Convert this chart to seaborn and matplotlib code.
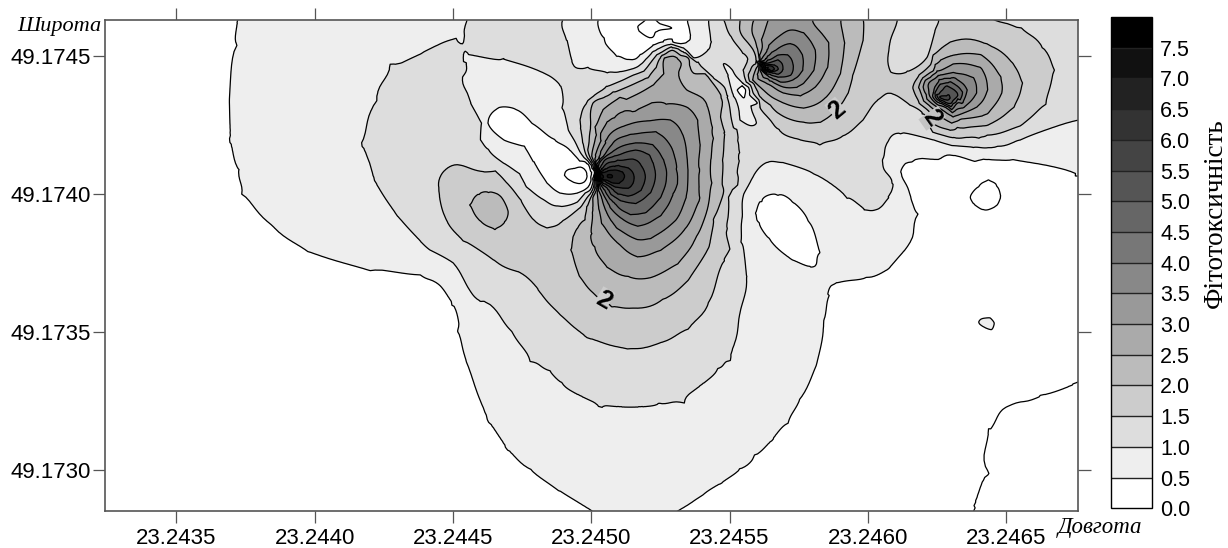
import numpy as np
import pandas as pd
import seaborn as sns
import matplotlib.pyplot as plt
import matplotlib.tri as mtri

# contours: longitude is 1e-4 deg past 23.24, latitude 1e-4 deg past 49.17
iso_00 = [
    ([63.63, 64.07, 64.43, 64.79, 65.26, 66.24, 67.6], [28.51, 29.99, 31.44, 32.28, 32.57, 32.64, 33.07]),
    ([49.0, 49.36, 49.86, 49.72, 49.36], [40.68, 40.94, 40.68, 40.4, 40.4]),
    ([51.6, 51.96, 52.5, 53.05, 53.12, 52.25, 51.67], [46.05, 46.31, 46.2, 46.0, 45.65, 45.62, 45.94]),
    ([63.63, 63.96, 64.36, 64.72, 64.86, 64.68, 64.17, 63.78], [39.89, 40.32, 40.5, 40.32, 39.89, 39.49, 39.34, 39.6]),
]
iso_05 = [
    ([37.24, 37.1, 36.99, 37.03, 37.24, 37.49, 38.4, 39.85, 42.01, 43.82, 44.54, 45.01, 45.27, 45.52, 46.35, 47.0, 47.8, 48.88, 49.97, 50.33,
      52.86, 53.94, 54.67, 55.38, 55.95, 56.47, 57.05, 57.55, 58.1, 58.46, 58.53, 58.64, 58.89, 59.97, 60.7, 61.28, 61.64, 61.53, 61.17, 61.43, 62.98, 65.26, 67.6],
     [46.31, 45.4, 43.41, 41.96, 40.87, 40.14, 38.87, 37.96, 37.31, 36.99, 36.78, 36.04, 35.07, 33.98, 31.8, 30.82, 29.99, 29.27, 28.6, 28.51,
      28.51, 29.09, 29.55, 30.0, 30.5, 31.08, 31.8, 32.53, 33.79, 35.41, 36.33, 36.69, 36.8, 36.95, 37.31, 37.96, 39.31, 39.89, 40.75, 41.23, 41.45, 41.23, 40.79]),
    ([46.24, 46.64, 47.33, 47.91, 48.63, 49.25, 49.86, 50.04, 49.97, 49.5, 48.88, 48.41, 47.91, 47.55, 46.82],
     [42.57, 43.19, 43.12, 42.57, 41.95, 41.59, 41.12, 40.76, 40.4, 40.04, 40.04, 40.4, 41.12, 41.7, 41.95]),
    ([50.14, 50.4, 50.94, 51.52, 51.78, 52.25, 52.97, 53.51, 53.58, 53.44],
     [46.31, 45.58, 45.04, 44.82, 45.04, 45.4, 45.51, 45.51, 45.76, 46.31]),
    ([55.97, 56.11, 56.73, 57.3, 57.92, 58.21, 58.17, 57.85, 57.2, 56.37, 56.0],
     [39.31, 39.78, 40.04, 39.78, 39.04, 37.86, 37.35, 37.28, 37.6, 38.33, 38.96]),
    ([63.96, 64.07, 64.43, 64.61, 64.5, 64.17], [35.32, 35.5, 35.54, 35.32, 35.03, 35.14]),
    ([55.27, 55.45, 55.6, 55.56, 55.38], [43.77, 43.91, 43.77, 43.48, 43.59]),
]
iso_10 = [
    ([45.56, 45.34, 45.01, 43.82, 42.85, 42.12, 41.83, 42.12, 42.99, 43.82, 45.01, 46.24, 47.07, 47.91, 48.4, 48.88, 49.6, 50.33, 51.0, 51.78, 52.5, 53.22, 54.0, 54.67,
      54.92, 55.38, 55.64, 55.45, 55.85, 56.37, 56.94, 58.03, 59.26, 59.84, 60.16, 60.56, 60.81, 60.92, 60.56, 60.7, 61.17, 62.36, 63.81, 65.51, 67.6],
     [46.31, 45.94, 45.51, 45.11, 44.6, 43.41, 41.85, 40.5, 39.16, 38.26, 37.5, 36.15, 34.96, 33.98, 33.55, 33.07, 32.65, 32.35, 32.25, 32.24, 32.33, 32.53, 33.05, 33.62,
      33.98, 35.68, 36.99, 39.16, 40.61, 41.16, 41.12, 40.76, 39.89, 39.42, 39.34, 39.49, 39.89, 40.4, 41.23, 41.95, 42.24, 41.95, 41.7, 41.95, 42.68]),
    ([48.88, 49.14, 49.32, 49.86, 50.58, 51.05, 51.78, 52.25, 52.86, 53.33, 53.69, 54.23, 54.31, 54.2],
     [46.31, 45.58, 44.85, 44.56, 44.46, 44.42, 44.67, 45.15, 45.44, 45.29, 44.96, 45.22, 45.51, 46.31]),
    ([45.34, 45.63, 46.82, 48.41, 48.88, 48.99, 49.17, 49.71, 50.14, 49.97, 49.5, 48.88, 48.27, 47.69, 46.82, 46.24, 45.99, 45.99, 45.63, 45.34],
     [44.75, 45.15, 44.85, 44.31, 43.88, 43.15, 42.32, 41.34, 40.76, 40.15, 39.71, 39.53, 39.78, 40.25, 41.12, 41.59, 41.95, 42.57, 43.3, 44.24]),
    ([54.92, 55.13, 55.49, 56.0, 56.04, 55.75, 55.38, 55.1], [44.31, 44.56, 44.02, 43.3, 42.57, 42.43, 42.68, 43.66]),
]
iso_15 = [
    ([50.07, 49.71, 49.6, 49.86, 50.58, 51.52, 52.14, 52.5, 52.93, 53.33, 53.84, 54.41, 54.95, 55.13, 55.31, 55.31, 55.13, 54.85, 54.78, 54.41, 53.47, 52.25,
      51.31, 49.86, 48.88, 48.05, 47.33, 46.46, 45.38, 44.65, 44.44, 44.62, 45.27, 46.1, 46.97, 47.44, 47.91, 48.41, 48.99, 49.6, 49.97, 50.11],
     [40.98, 41.85, 42.68, 43.4, 43.88, 44.31, 44.75, 45.11, 45.33, 45.11, 44.75, 44.24, 43.51, 42.43, 41.48, 41.23, 40.14, 38.69, 37.6, 36.26, 35.17, 34.45,
      34.38, 34.81, 35.61, 36.52, 37.17, 37.6, 38.33, 39.16, 40.03, 40.76, 41.05, 40.79, 40.4, 39.78, 39.05, 38.8, 38.98, 39.49, 40.03, 40.5]),
    ([54.84, 55.03, 55.49, 55.67, 55.53, 55.85, 56.11, 56.73, 57.45, 58.28, 59.11, 59.84, 60.34, 60.7, 60.92, 61.53, 62.0, 62.15, 62.36, 63.09, 64.32, 65.51, 66.35, 66.67, 66.35, 65.51, 64.32],
     [46.31, 45.69, 45.11, 44.85, 44.49, 43.66, 43.15, 42.32, 41.95, 41.85, 42.06, 42.68, 43.4, 43.69, 43.66, 43.22, 42.93, 42.68, 42.24, 42.03, 42.06, 42.5, 43.3, 44.49, 45.33, 45.94, 46.31]),
    ([61.07, 60.74, 60.81, 61.43, 62.15, 62.44, 62.62], [46.31, 45.47, 44.42, 44.42, 44.96, 45.94, 46.31]),
]
iso_20 = [
    ([50.14, 49.86, 49.36, 49.32, 49.6, 50.07, 50.8, 51.52, 52.61, 53.47, 54.2, 54.49, 54.74, 54.78, 54.78, 54.74, 54.2, 53.47, 52.93, 52.5, 52.03, 51.05, 50.07, 49.97, 50.11],
     [40.25, 39.53, 38.4, 37.97, 37.06, 36.41, 35.97, 35.86, 36.15, 36.88, 37.97, 39.16, 40.4, 41.23, 42.21, 43.51, 44.24, 44.96, 45.22, 44.96, 44.24, 43.77, 43.3, 42.43, 41.05]),
    ([55.38, 55.38, 55.85, 56.0, 55.82, 56.11, 56.73, 57.67, 58.28, 58.9, 59.3, 59.47, 59.84, 59.87],
     [46.31, 45.83, 45.22, 44.78, 44.02, 43.51, 42.93, 42.57, 42.61, 43.04, 43.66, 44.24, 45.58, 46.31]),
    ([62.98, 64.32, 65.26, 65.58, 65.26, 64.32, 62.98, 62.36, 61.89, 61.64, 61.89, 62.36],
     [45.51, 45.47, 44.75, 44.02, 43.15, 42.5, 42.32, 42.57, 43.3, 43.84, 44.31, 44.96]),
    ([45.67, 45.92, 46.28, 46.71, 47.0, 46.89, 46.53, 45.99], [39.6, 40.03, 40.1, 39.96, 39.42, 38.98, 38.76, 38.98]),
]
iso_25 = [
    ([50.04, 50.18, 50.43, 51.05, 52.25, 52.61, 52.64, 52.86, 53.12, 53.15, 53.47, 54.23, 54.31, 54.31, 54.2, 53.84, 53.12, 52.14, 51.31, 50.58, 50.07, 49.97, 50.11],
     [41.34, 42.43, 43.04, 43.48, 43.95, 44.38, 44.93, 45.0, 44.93, 44.38, 43.77, 43.15, 41.23, 40.4, 39.42, 38.44, 37.49, 36.95, 36.95, 37.35, 38.07, 38.58, 39.96]),
    ([55.85, 55.82, 56.0, 56.07, 55.85, 56.22, 56.94, 57.67, 58.53, 59.0, 59.15, 59.0],
     [46.31, 45.83, 45.33, 44.85, 44.13, 43.77, 43.3, 43.12, 43.51, 44.38, 45.47, 46.31]),
    ([63.09, 64.07, 64.79, 64.86, 64.32, 63.34, 62.51, 61.89, 62.36], [45.04, 45.04, 44.24, 43.66, 42.93, 42.68, 42.93, 43.77, 44.49]),
]
iso_30 = [
    ([50.14, 50.33, 50.58, 51.52, 52.75, 53.47, 53.84, 53.95, 53.87, 53.87, 53.47, 52.5, 51.67, 50.94, 50.4, 50.22],
     [41.23, 41.95, 42.57, 43.04, 43.3, 43.15, 42.68, 41.77, 40.87, 39.78, 38.8, 37.97, 37.71, 38.22, 38.95, 40.03]),
    ([56.11, 56.18, 56.4, 57.92, 58.57, 58.53, 58.1, 57.56, 56.94, 56.37, 56.04],
     [44.85, 45.58, 46.31, 46.31, 45.47, 44.6, 43.88, 43.59, 43.66, 44.02, 44.49]),
    ([63.09, 64.07, 64.32, 63.96, 63.09, 62.51, 62.0, 62.51], [44.71, 44.56, 43.77, 43.15, 42.82, 43.15, 43.88, 44.42]),
]
iso_35 = [
    ([50.18, 50.51, 51.23, 52.14, 52.86, 53.33, 53.47, 53.47, 53.05, 52.14, 51.67, 50.94, 50.51, 50.26],
     [41.12, 41.95, 42.5, 42.68, 42.68, 42.14, 41.23, 40.14, 39.05, 38.4, 38.33, 38.77, 39.42, 40.14]),
    ([56.14, 56.37, 56.84, 57.38, 57.67, 58.1, 58.03, 57.67, 56.94, 56.47, 56.11],
     [44.85, 45.22, 45.76, 45.94, 45.83, 45.22, 44.49, 44.02, 43.88, 44.13, 44.49]),
    ([63.09, 63.81, 63.92, 63.45, 62.87, 62.25, 62.18], [44.38, 44.2, 43.66, 43.15, 43.11, 43.51, 44.02]),
]
iso_40 = [
    ([50.22, 50.69, 51.41, 52.32, 52.86, 53.12, 52.97, 52.5, 51.67, 51.05, 50.62, 50.33],
     [41.05, 41.77, 42.14, 42.24, 41.77, 40.87, 39.96, 39.23, 38.84, 39.13, 39.67, 40.21]),
    ([56.22, 56.65, 57.2, 57.63, 57.63, 57.31, 56.84, 56.4, 56.14], [44.82, 45.22, 45.47, 45.04, 44.49, 44.13, 44.06, 44.27, 44.53]),
    ([63.09, 63.59, 63.23, 62.62, 62.36, 62.51], [44.2, 43.77, 43.3, 43.3, 43.66, 44.02]),
]
iso_45 = [
    ([50.26, 50.76, 51.6, 52.21, 52.61, 52.75, 52.5, 51.96, 51.41, 50.87, 50.47],
     [40.98, 41.52, 41.85, 41.77, 41.23, 40.61, 39.89, 39.34, 39.27, 39.6, 40.14]),
    ([56.29, 56.73, 57.09, 57.31, 57.2, 56.76, 56.4, 56.18], [44.78, 45.04, 45.04, 44.64, 44.31, 44.24, 44.38, 44.56]),
    ([62.91, 63.41, 63.16, 62.69, 62.44, 62.62], [44.06, 43.69, 43.33, 43.33, 43.66, 43.98]),
]
iso_50 = [
    ([50.29, 50.87, 51.6, 52.07, 52.32, 52.14, 51.6, 51.05, 50.55], [40.9, 41.34, 41.59, 41.41, 40.61, 40.07, 39.67, 39.78, 40.25]),
    ([56.37, 56.73, 56.94, 56.76, 56.4, 56.22], [44.75, 44.85, 44.53, 44.35, 44.46, 44.6]),
    ([62.87, 63.27, 62.98, 62.51], [43.91, 43.59, 43.26, 43.51]),
]
iso_55 = [
    ([50.33, 50.98, 51.52, 51.85, 51.96, 51.78, 51.34, 50.76, 50.4], [40.83, 41.19, 41.27, 40.98, 40.61, 40.14, 39.92, 40.14, 40.4]),
    ([56.4, 56.62, 56.76, 56.58, 56.4, 56.26], [44.69, 44.67, 44.53, 44.44, 44.49, 44.6]),
    ([62.58, 62.8, 62.98, 62.8], [43.51, 43.57, 43.48, 43.4]),
]
iso_60 = [
    ([50.36, 50.98, 51.34, 51.56, 51.34, 50.87, 50.47], [40.79, 41.01, 40.94, 40.61, 40.21, 40.25, 40.47]),
    ([56.26, 56.51, 56.62, 56.47, 56.29], [44.67, 44.64, 44.53, 44.46, 44.49]),
]
iso_65 = [
    ([50.4, 50.76, 51.12, 51.23, 50.98, 50.55], [40.76, 40.87, 40.79, 40.61, 40.4, 40.5]),
    ([56.22, 56.4, 56.51, 56.37], [44.6, 44.6, 44.53, 44.49]),
]
iso_70 = [
    ([50.33, 50.62, 50.8, 50.62, 50.33], [40.72, 40.72, 40.65, 40.58, 40.58]),
]

# spot readings between the contours (peaks, pits, ridges, map edge)
spot_lon = [50.26, 56.33, 62.8, 49.43, 52.32, 64.25, 46.9, 47.8, 48.72, 51.05, 57.02, 64.32, 55.42, 55.56, 46.35,
            55.56, 54.53, 47.62, 43.82, 44.18, 47.4, 47.22, 44.54, 48.7, 67.6, 67.6, 66.9, 61.36, 61.82, 60.78, 61.35, 63.46,
            32.41, 32.41, 32.41, 35.0, 40.9, 45.0, 49.0, 51.6, 60.0, 67.6, 67.6, 35.0, 39.0, 45.0, 58.0, 62.0, 65.0, 62.0, 66.0,
            59.7, 66.0, 60.0, 58.82, 56.84, 57.2, 52.86, 58.46]
spot_lat = [40.65, 44.53, 43.48, 40.68, 45.94, 39.96, 42.6, 41.95, 41.05, 46.31, 38.87, 35.28, 43.7, 43.22, 39.42,
            41.56, 46.31, 38.04, 43.04, 44.85, 45.58, 46.31, 41.95, 44.8, 46.31, 44.5, 43.0, 45.47, 46.31, 44.06, 43.84, 46.31,
            46.31, 37.0, 28.51, 46.31, 46.31, 28.51, 28.51, 28.51, 28.51, 28.51, 37.0, 37.0, 33.0, 30.0, 30.0, 33.0, 37.0, 37.0, 35.0,
            36.1, 38.5, 33.0, 37.96, 35.8, 46.31, 44.8, 36.95]
spot_val = [7.7, 7.1, 5.8, -0.1, -0.05, -0.05, 0.25, 0.25, 0.25, 0.25, 0.3, 0.6, 0.4, 0.8, 2.2,
            1.3, 1.25, 1.75, 1.25, 1.25, 1.25, 1.2, 1.3, 1.25, 1.2, 1.25, 1.2, 1.3, 1.3, 1.7, 1.7, 1.75,
            0.2, 0.2, 0.2, 0.3, 0.8, 0.2, 0.4, 0.55, 0.3, -0.1, 0.25, 0.2, 0.2, 0.25, 0.35, 0.2, 0.2, 0.2, 0.2,
            0.35, 0.35, 0.3, 0.7, 0.75, 3.35, 2.75, 0.62]

# band readings: flanks just inside the white field, then mid-band values
white_lon = [35.5, 35.5, 36.5, 38.0, 40.0, 42.0, 44.0, 44.6, 46.0, 48.0, 55.0, 57.5, 59.0, 59.7, 60.5, 62.5, 63.0, 62.7, 64.4, 66.0]
white_lat = [44.0, 41.5, 39.0, 37.0, 36.5, 35.8, 34.5, 32.0, 29.8, 28.8, 29.0, 31.0, 33.0, 35.5, 36.0, 37.0, 39.0, 40.7, 41.0, 40.0]
white_val = [0.35, 0.35, 0.35, 0.35, 0.35, 0.35, 0.35, 0.35, 0.35, 0.35, 0.35, 0.35, 0.35, 0.35, 0.35, 0.35, 0.35, 0.35, 0.25, 0.3]
band_lon = [39.5, 39.3, 39.7, 43.82, 45.74, 46.7, 48.88, 51.78, 54.67, 56.84, 57.55,
            43.3, 44.5, 46.1, 47.5, 49.3, 51.8, 53.9, 55.0, 55.2, 55.6,
            46.4, 46.35, 45.1, 47.4, 48.7, 49.2, 50.3, 52.0, 53.9, 54.8, 55.05, 55.03]
band_lat = [45.0, 42.0, 39.5, 37.6, 35.6, 33.4, 31.1, 30.35, 31.4, 33.6, 35.4,
            40.2, 38.33, 36.5, 35.3, 33.8, 33.3, 34.0, 35.4, 38.0, 41.0,
            38.2, 40.65, 39.6, 39.2, 38.0, 36.5, 35.4, 35.0, 36.5, 38.0, 40.2, 42.3]
band_val = [0.75, 0.75, 0.75, 0.75, 0.75, 0.75, 0.75, 0.75, 0.75, 0.75, 0.72,
            1.25, 1.25, 1.25, 1.25, 1.25, 1.25, 1.25, 1.25, 1.25, 1.25,
            1.75, 1.75, 1.75, 1.75, 1.75, 1.75, 1.75, 1.75, 1.75, 1.75, 1.75, 1.75]

# readings carried just past the map frame
rim_lon = [31.5, 37.3, 45.7, 47.2, 49.0, 50.2, 52.0, 54.2, 54.85, 55.4, 55.9, 56.4, 57.2, 58.0, 59.0, 59.9, 61.0, 62.7, 64.3, 66.0, 68.5,
           31.5, 40.0, 48.0, 50.3, 51.6, 52.9, 60.0, 63.4, 68.5,
           31.5, 68.5, 68.5, 68.5, 68.5, 68.5]
rim_lat = [47.0, 47.0, 47.0, 47.0, 47.0, 47.0, 47.0, 47.0, 47.0, 47.0, 47.0, 47.0, 47.0, 47.0, 47.0, 47.0, 47.0, 47.0, 47.0, 47.0, 47.0,
           27.8, 27.8, 27.8, 27.8, 27.8, 27.8, 27.8, 27.8, 27.8,
           37.0, 33.4, 37.0, 40.5, 42.9, 45.0]
rim_val = [0.2, 0.5, 1.0, 1.2, 1.0, 0.5, 0.0, 1.0, 1.5, 2.0, 2.5, 3.0, 3.4, 3.0, 2.5, 2.0, 1.5, 1.5, 1.5, 1.3, 1.2,
           0.2, 0.2, 0.4, 0.5, 0.55, 0.5, 0.3, 0.0, -0.1,
           0.2, 0.0, 0.25, 0.5, 1.0, 1.25]

levels = [0.0, 0.5, 1.0, 1.5, 2.0, 2.5, 3.0, 3.5, 4.0, 4.5, 5.0, 5.5, 6.0, 6.5, 7.0, 7.5, 8.0]
lon_ticks = [23.2435, 23.2440, 23.2445, 23.2450, 23.2455, 23.2460, 23.2465]
lat_ticks = [49.1730, 49.1735, 49.1740, 49.1745]
label_lon = [50.44, 58.9, 62.33]
label_lat = [36.15, 43.04, 42.75]

# long table of all readings
rows = []
for val, paths in [(0.0, iso_00), (0.5, iso_05), (1.0, iso_10), (1.5, iso_15), (2.0, iso_20), (2.5, iso_25), (3.0, iso_30), (3.5, iso_35),
                   (4.0, iso_40), (4.5, iso_45), (5.0, iso_50), (5.5, iso_55), (6.0, iso_60), (6.5, iso_65), (7.0, iso_70)]:
    for xs, ys in paths:
        rows.append(pd.DataFrame({"lon": xs, "lat": ys, "val": val}))
rows.append(pd.DataFrame({"lon": spot_lon, "lat": spot_lat, "val": spot_val}))
rows.append(pd.DataFrame({"lon": white_lon, "lat": white_lat, "val": white_val}))
rows.append(pd.DataFrame({"lon": band_lon, "lat": band_lat, "val": band_val}))
rows.append(pd.DataFrame({"lon": rim_lon, "lat": rim_lat, "val": rim_val}))
df = pd.concat(rows).drop_duplicates(["lon", "lat"])

sns.set_theme(style="white")
plt.rcParams["font.family"] = ["Liberation Sans", "DejaVu Sans"]
greys = sns.blend_palette(["#ffffff", "#000000"], 16)

W, H = 1228, 548
fig = plt.figure(figsize=(W / 100, H / 100), dpi=100)
ax = fig.add_axes([104.5 / W, (H - 510.7) / H, (1078 - 104.5) / W, (510.7 - 20) / H])
cax = fig.add_axes([1111 / W, (H - 508.3) / H, 41 / W, 491.3 / H])

# cubic refinement through the readings, then a light relax to round off kinks
tri = mtri.Triangulation(df["lon"].to_numpy(), df["lat"].to_numpy())
interp = mtri.CubicTriInterpolator(tri, df["val"].to_numpy(), kind="geom")
fine, fine_val = mtri.UniformTriRefiner(tri).refine_field(df["val"].to_numpy(), triinterpolator=interp, subdiv=3)
edges = fine.edges
fine_val = np.ma.filled(fine_val, 0.0).astype(float)
count = np.zeros_like(fine_val)
np.add.at(count, edges[:, 0], 1)
np.add.at(count, edges[:, 1], 1)
for _ in range(10):
    total = np.zeros_like(fine_val)
    np.add.at(total, edges[:, 0], fine_val[edges[:, 1]])
    np.add.at(total, edges[:, 1], fine_val[edges[:, 0]])
    fine_val = 0.5 * fine_val + 0.5 * total / count
fine = mtri.Triangulation(23.24 + fine.x * 1e-4, 49.17 + fine.y * 1e-4, fine.triangles)

filled = ax.tricontourf(fine, np.clip(fine_val, 0.0, 7.99), levels=levels, colors=[tuple(c) for c in greys])
ax.tricontour(fine, fine_val, levels=levels[:-1], colors="black", linewidths=0.9)

ax.set_xlim(23.24324, 23.24676)
ax.set_ylim(49.172851, 49.174631)
ax.set_xticks(lon_ticks)
ax.set_yticks(lat_ticks)
ax.set_xticklabels([f"{v:.4f}" for v in lon_ticks])
ax.set_yticklabels([f"{v:.4f}" for v in lat_ticks])
ax.tick_params(axis="x", top=True, bottom=True, direction="out", length=8.6, width=0.9, color="#555555", labelsize=16, pad=3.5, labelcolor="black")
ax.tick_params(axis="y", left=True, right=True, direction="out", length=9, width=0.9, color="#555555", labelsize=16, pad=1, labelcolor="black")
for s in ax.spines.values():
    s.set_color("#555555")
    s.set_linewidth(1.2)

label_bg = ["#cccccc", "#cccccc", "#c4c4c4"]
for x, y, rot, bg in zip(label_lon, label_lat, [-30, 40, -55], label_bg):
    ax.text(23.24 + x * 1e-4, 49.17 + y * 1e-4, "2", rotation=rot, ha="center", va="center", fontsize=18, fontweight="bold", color="black",
            bbox=dict(facecolor=bg, edgecolor="none", pad=0.0))

cbar = fig.colorbar(filled, cax=cax, ticks=levels[:-1], drawedges=True)
cbar.ax.set_yticklabels([f"{v:.1f}" for v in levels[:-1]])
cbar.ax.tick_params(length=0, labelsize=15.5, pad=6, labelcolor="black")
cbar.outline.set_edgecolor("black")
cbar.outline.set_linewidth(1)
cbar.dividers.set_color("#222222")
cbar.dividers.set_linewidth(1)

fig.text(59 / W, 1 - 27 / H, "Широта", family="Liberation Serif", style="italic", fontsize=16, ha="center", va="center", color="black")
fig.text(1100 / W, 1 - 527 / H, "Довгота", family="Liberation Serif", style="italic", fontsize=16.5, ha="center", va="center", color="black")
fig.text(1215 / W, 1 - 213 / H, "Фітотоксичність", family="Liberation Serif", fontsize=19.5, rotation=90, ha="center", va="center", color="black")

fig.savefig("out.png", dpi=100)
